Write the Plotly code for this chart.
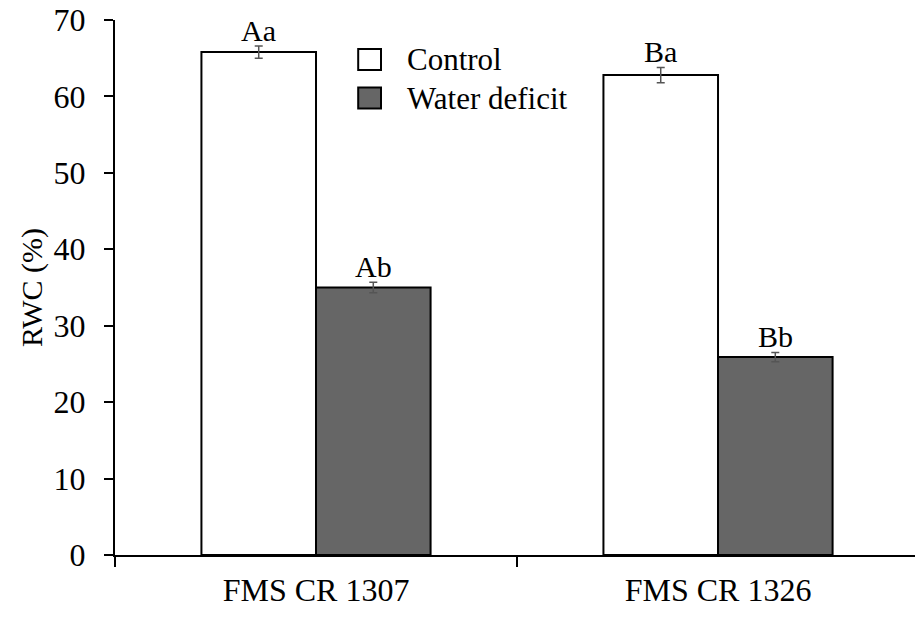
import plotly.graph_objects as go

categories = ["FMS CR 1307", "FMS CR 1326"]
control = [65.8, 62.8]
control_err = [0.8, 1.0]
deficit = [35.0, 25.9]
deficit_err = [0.7, 0.6]
control_labels = ["Aa", "Ba"]
deficit_labels = ["Ab", "Bb"]
series_names = ["Control", "Water deficit"]
y_ticks = [0, 10, 20, 30, 40, 50, 60, 70]

FONT = "Liberation Serif"
BARGAP = 0.43
fills = ["#ffffff", "#666666"]

fig = go.Figure()
for name, vals, errs, fill in [(series_names[0], control, control_err, fills[0]),
                               (series_names[1], deficit, deficit_err, fills[1])]:
    fig.add_trace(go.Bar(
        x=categories, y=vals, name=name,
        marker=dict(color=fill, line=dict(color="black", width=2)),
        error_y=dict(type="data", array=errs, color="#555555", thickness=1.5, width=4),
        showlegend=False,
    ))

# letters above bars
half = (1 - BARGAP) / 4
for i in range(len(categories)):
    for off, vals, errs, labs in [(-half, control, control_err, control_labels),
                                  (half, deficit, deficit_err, deficit_labels)]:
        fig.add_annotation(x=i + off, y=vals[i] + errs[i], xref="x", yref="y",
                           text=labs[i], showarrow=False, yanchor="bottom", yshift=-3,
                           font=dict(family=FONT, size=30, color="black"))

# custom legend
leg_x0, leg_y = 0.304, [0.926, 0.854]
for j, name in enumerate(series_names):
    yc = leg_y[j]
    fig.add_shape(type="rect", xref="paper", yref="paper",
                  x0=leg_x0, x1=leg_x0 + 0.0285, y0=yc - 0.0196, y1=yc + 0.0196,
                  fillcolor=fills[j], line=dict(color="black", width=2))
    fig.add_annotation(x=leg_x0 + 0.0585, y=yc, xref="paper", yref="paper",
                       text=name, showarrow=False, xanchor="left", yanchor="middle",
                       font=dict(family=FONT, size=31, color="black"))

fig.update_layout(
    width=915, height=617,
    margin=dict(l=115, r=0, t=20, b=62),
    paper_bgcolor="white", plot_bgcolor="white",
    barmode="group", bargap=BARGAP, bargroupgap=0,
    font=dict(family=FONT, size=32, color="black"),
)
fig.update_xaxes(
    type="category", range=[-0.5, 1.49],
    showline=True, linecolor="black", linewidth=2,
    ticks="outside", tickson="boundaries", ticklen=10, tickwidth=2, tickcolor="black",
    tickfont=dict(family=FONT, size=32, color="black"), ticklabelstandoff=6,
    showgrid=False, zeroline=False,
)
fig.update_yaxes(
    range=[0, 70], tickvals=y_ticks,
    showline=True, linecolor="black", linewidth=2,
    ticks="outside", ticklen=9, tickwidth=2, tickcolor="black",
    tickfont=dict(family=FONT, size=32, color="black"), ticklabelstandoff=12,
    showgrid=False, zeroline=False,
    title=dict(text="RWC (%)", font=dict(family=FONT, size=30, color="black"), standoff=2),
)

fig.write_html("out.html")
